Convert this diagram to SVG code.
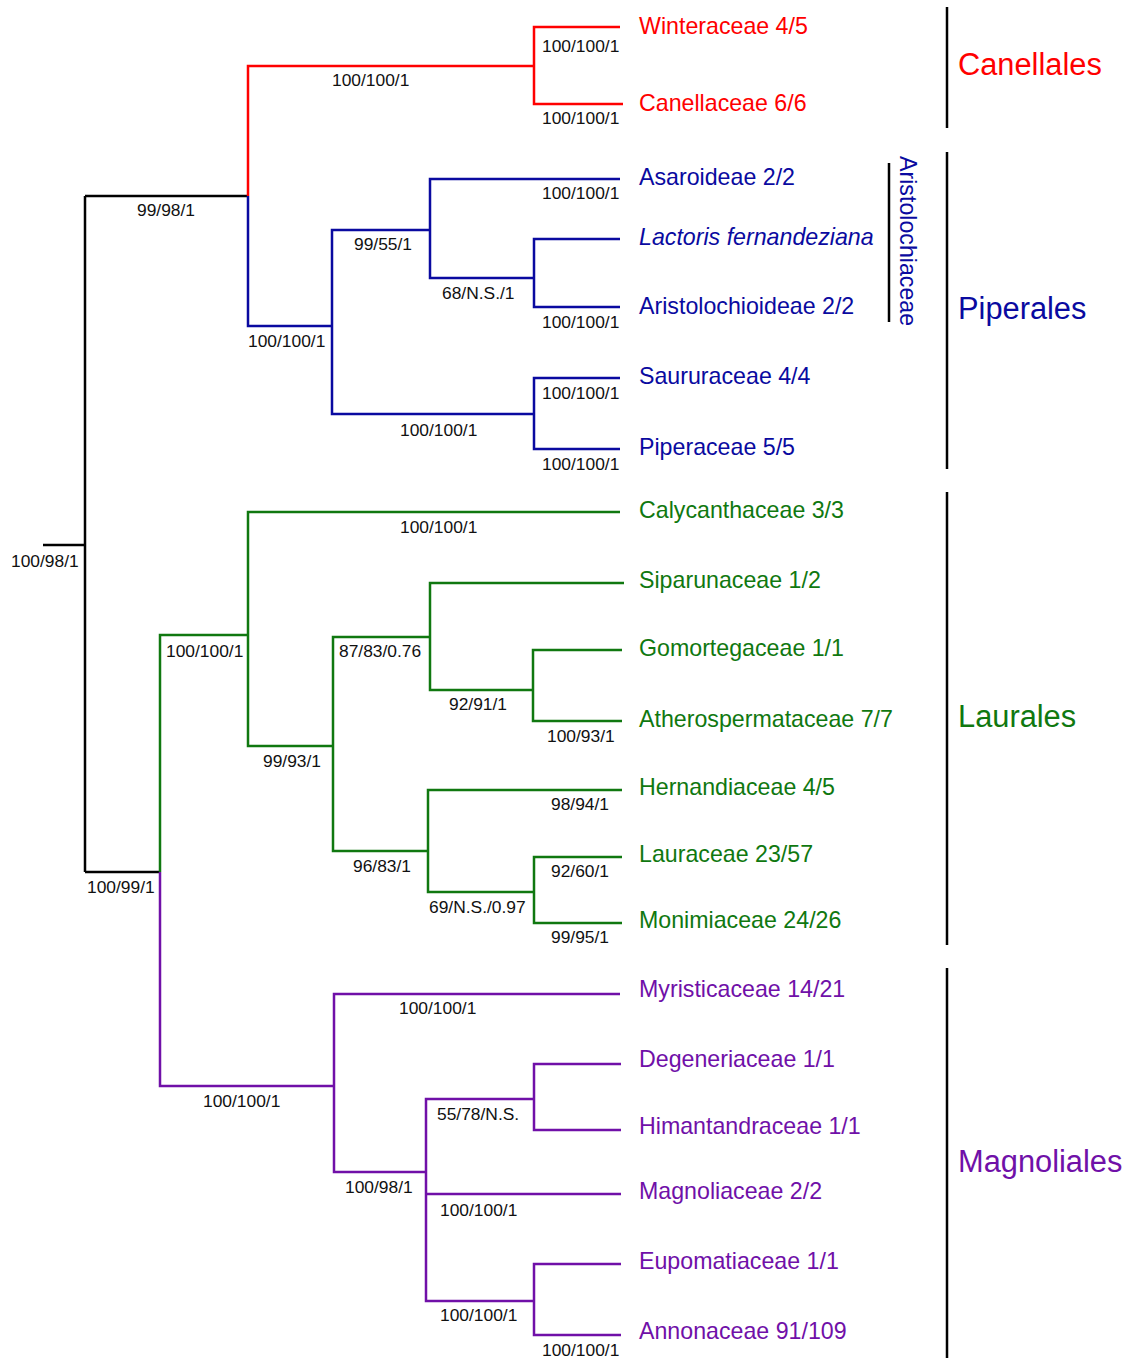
<svg xmlns="http://www.w3.org/2000/svg" width="1128" height="1358" viewBox="0 0 1128 1358">
<style>
.br{fill:none;stroke-width:2.5;stroke-linejoin:miter;stroke-linecap:butt}
.k{stroke:#000}
.r{stroke:#ff0000}
.b{stroke:#0a0aa0}
.g{stroke:#107810}
.p{stroke:#7010a8}
.bar{stroke:#000;stroke-width:2.5;fill:none}
text{font-family:"Liberation Sans",Arial,sans-serif}
.s{font-size:17.4px;fill:#111}
.t{font-size:23.2px}
.o{font-size:30.8px}
.tr{fill:#ff0000}
.tb{fill:#0a0aa0}
.tg{fill:#107810}
.tp{fill:#7010a8}
</style>
<rect width="1128" height="1358" fill="#fff"/>
<g id="connectors">
<path class="br k" d="M43 545H85M85 196V872M85 196H248M85 872H160"/>
<path class="br r" d="M248 196V66H534M620 27H534V104H623"/>
<path class="br b" d="M248 196V326H332M430 230H332V414H534M620 179H430V278H534M620 239H534V307H620M620 378H534V449H620"/>
<path class="br g" d="M160 872V635H248M620 512H248V746H333M430 637H333V851H428M624 583H430V690H533M622 650H533V721H622M622 790H428V892H534M622 857H534V923H622"/>
<path class="br p" d="M160 872V1086H334M620 994H334V1172H426M534 1099H426V1301H534M621 1064H534V1130H621M426 1194H621M621 1264H534V1335H621"/>
</g>
<g id="support">
<text class="s" x="332" y="86">100/100/1</text>
<text class="s" x="542" y="52">100/100/1</text>
<text class="s" x="542" y="124">100/100/1</text>
<text class="s" x="137" y="216">99/98/1</text>
<text class="s" x="248" y="347">100/100/1</text>
<text class="s" x="354" y="250">99/55/1</text>
<text class="s" x="542" y="199">100/100/1</text>
<text class="s" x="442" y="299">68/N.S./1</text>
<text class="s" x="542" y="328">100/100/1</text>
<text class="s" x="542" y="399">100/100/1</text>
<text class="s" x="400" y="436">100/100/1</text>
<text class="s" x="542" y="470">100/100/1</text>
<text class="s" x="11" y="567">100/98/1</text>
<text class="s" x="166" y="657">100/100/1</text>
<text class="s" x="400" y="533">100/100/1</text>
<text class="s" x="339" y="657">87/83/0.76</text>
<text class="s" x="263" y="767">99/93/1</text>
<text class="s" x="449" y="710">92/91/1</text>
<text class="s" x="547" y="742">100/93/1</text>
<text class="s" x="353" y="872">96/83/1</text>
<text class="s" x="551" y="810">98/94/1</text>
<text class="s" x="551" y="877">92/60/1</text>
<text class="s" x="429" y="913">69/N.S./0.97</text>
<text class="s" x="551" y="943">99/95/1</text>
<text class="s" x="87" y="893">100/99/1</text>
<text class="s" x="203" y="1107">100/100/1</text>
<text class="s" x="399" y="1014">100/100/1</text>
<text class="s" x="437" y="1120">55/78/N.S.</text>
<text class="s" x="345" y="1193">100/98/1</text>
<text class="s" x="440" y="1216">100/100/1</text>
<text class="s" x="440" y="1321">100/100/1</text>
<text class="s" x="542" y="1356">100/100/1</text>
</g>
<g id="taxon-winteraceae"><text class="t tr" x="639" y="34">Winteraceae 4/5</text></g>
<g id="taxon-canellaceae"><text class="t tr" x="639" y="111">Canellaceae 6/6</text></g>
<g id="taxon-asaroideae"><text class="t tb" x="639" y="185">Asaroideae 2/2</text></g>
<g id="taxon-lactoris"><text class="t tb" x="639" y="245" font-style="italic">Lactoris fernandeziana</text></g>
<g id="taxon-aristolochioideae"><text class="t tb" x="639" y="314">Aristolochioideae 2/2</text></g>
<g id="taxon-saururaceae"><text class="t tb" x="639" y="384">Saururaceae 4/4</text></g>
<g id="taxon-piperaceae"><text class="t tb" x="639" y="455">Piperaceae 5/5</text></g>
<g id="taxon-calycanthaceae"><text class="t tg" x="639" y="518">Calycanthaceae 3/3</text></g>
<g id="taxon-siparunaceae"><text class="t tg" x="639" y="588">Siparunaceae 1/2</text></g>
<g id="taxon-gomortegaceae"><text class="t tg" x="639" y="656">Gomortegaceae 1/1</text></g>
<g id="taxon-atherospermataceae"><text class="t tg" x="639" y="727">Atherospermataceae 7/7</text></g>
<g id="taxon-hernandiaceae"><text class="t tg" x="639" y="795">Hernandiaceae 4/5</text></g>
<g id="taxon-lauraceae"><text class="t tg" x="639" y="862">Lauraceae 23/57</text></g>
<g id="taxon-monimiaceae"><text class="t tg" x="639" y="928">Monimiaceae 24/26</text></g>
<g id="taxon-myristicaceae"><text class="t tp" x="639" y="997">Myristicaceae 14/21</text></g>
<g id="taxon-degeneriaceae"><text class="t tp" x="639" y="1067">Degeneriaceae 1/1</text></g>
<g id="taxon-himantandraceae"><text class="t tp" x="639" y="1134">Himantandraceae 1/1</text></g>
<g id="taxon-magnoliaceae"><text class="t tp" x="639" y="1199">Magnoliaceae 2/2</text></g>
<g id="taxon-eupomatiaceae"><text class="t tp" x="639" y="1269">Eupomatiaceae 1/1</text></g>
<g id="taxon-annonaceae"><text class="t tp" x="639" y="1339">Annonaceae 91/109</text></g>
<g id="clade-aristolochiaceae">
<path class="bar" d="M889 163V322"/>
<text class="t tb" transform="translate(900 156) rotate(90)">Aristolochiaceae</text>
</g>
<g id="clade-canellales">
<path class="bar" d="M947 7V128"/>
<text class="o tr" x="958" y="75">Canellales</text>
</g>
<g id="clade-piperales">
<path class="bar" d="M947 152V469"/>
<text class="o tb" x="958" y="319">Piperales</text>
</g>
<g id="clade-laurales">
<path class="bar" d="M947 492V945"/>
<text class="o tg" x="958" y="727">Laurales</text>
</g>
<g id="clade-magnoliales">
<path class="bar" d="M947 968V1358"/>
<text class="o tp" x="958" y="1172">Magnoliales</text>
</g>
</svg>
